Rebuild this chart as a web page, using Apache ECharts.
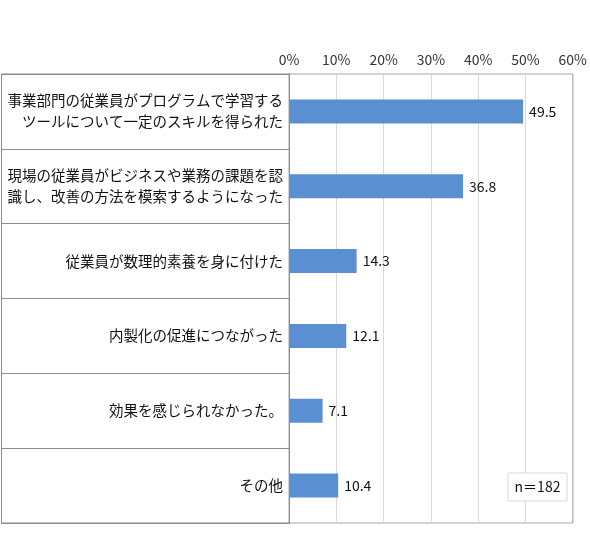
<!DOCTYPE html>
<html><head><meta charset="utf-8">
<script src="https://cdn.jsdelivr.net/npm/echarts@6/dist/echarts.min.js"></script>
<style>html,body{margin:0;padding:0;background:#fff}#c{width:590px;height:545px}</style>
</head><body><div id="c"></div>
<script>
const categories = [
  '事業部門の従業員がプログラムで学習する\nツールについて一定のスキルを得られた',
  '現場の従業員がビジネスや業務の課題を認\n識し、改善の方法を模索するようになった',
  '従業員が数理的素養を身に付けた',
  '内製化の促進につながった',
  '効果を感じられなかった。',
  'その他'
];
const values = [49.5, 36.8, 14.3, 12.1, 7.1, 10.4];
const xTicks = { min: 0, max: 60, interval: 10 };
const note = 'n＝182';

const font = '"Noto Sans CJK JP", "Noto Sans", sans-serif';
const chart = echarts.init(document.getElementById('c'));
chart.setOption({
  animation: false,
  textStyle: { fontFamily: font },
  grid: { left: 289, right: 14, top: 74, bottom: 22, show: true, borderColor: '#a6a6a6', borderWidth: 1 },
  xAxis: {
    type: 'value', position: 'top', min: xTicks.min, max: xTicks.max, interval: xTicks.interval,
    axisLine: { show: false }, axisTick: { show: false },
    axisLabel: { formatter: '{value}%', color: '#333', fontSize: 14, margin: 7, fontFamily: font },
    splitLine: { show: true, lineStyle: { color: '#d9d9d9', width: 1 } }
  },
  yAxis: {
    type: 'category', inverse: true, data: categories,
    axisLine: { show: true, lineStyle: { color: '#404040', width: 1 } },
    axisTick: { show: true, length: 288, lineStyle: { color: '#8c8c8c', width: 1 } },
    axisLabel: { color: '#111', fontSize: 14.5, lineHeight: 21, margin: 6, align: 'right', fontFamily: font },
    splitLine: { show: false }
  },
  series: [{
    type: 'bar', data: values, barWidth: 24,
    itemStyle: { color: '#5a8fd2' },
    label: { show: true, position: 'right', distance: 6, color: '#111', fontSize: 14, fontFamily: font,
      formatter: p => p.value.toFixed(1) }
  }],
  graphic: [
    { type: 'rect', shape: { x: 1.5, y: 74, width: 288, height: 449 }, style: { fill: 'none', stroke: '#8c8c8c', lineWidth: 1 }, z: 10 },
    { type: 'rect', shape: { x: 508, y: 473, width: 59, height: 28 }, style: { fill: '#fff', stroke: '#d9d9d9', lineWidth: 1 }, z: 10 },
    { type: 'text', x: 537.5, y: 487, style: { text: note, fill: '#111', fontSize: 14, fontFamily: font, align: 'center', verticalAlign: 'middle' }, z: 11 }
  ]
});
</script></body></html>
